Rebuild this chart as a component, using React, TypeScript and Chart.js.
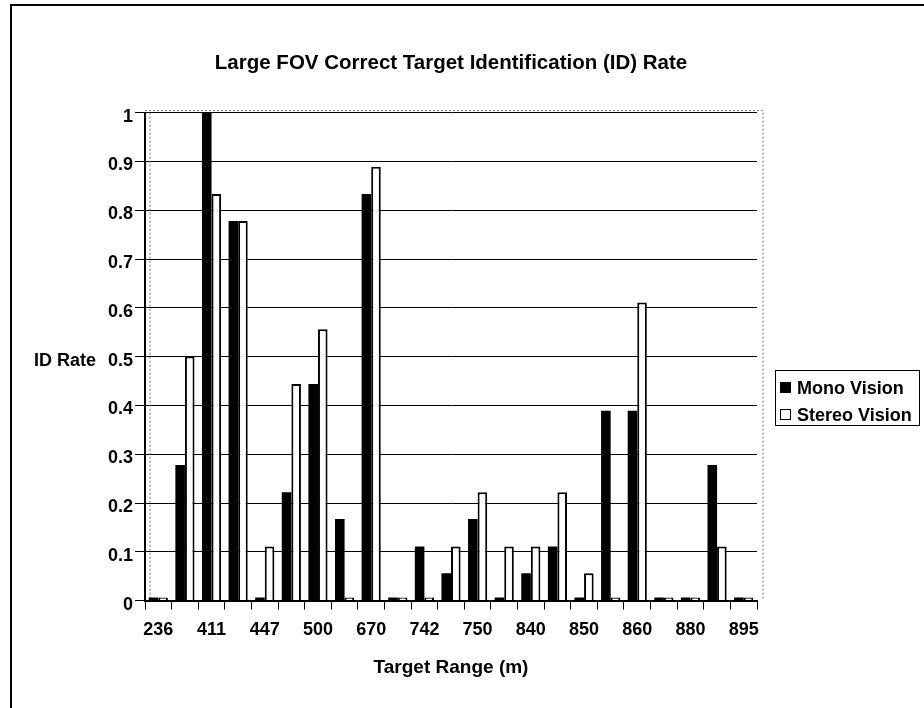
import React, { useEffect, useRef } from "react";
import { Chart, registerables } from "chart.js";

Chart.register(...registerables);

// Category labels (only every other label is printed in the source chart; unprinted ones left blank)
const rangeLabels: string[] = [
  "236", "", "411", "", "447", "", "500", "", "670", "", "742", "",
  "750", "", "840", "", "850", "", "860", "", "880", "", "895",
];

const monoVision: number[] = [
  0, 0.278, 1, 0.778, 0, 0.222, 0.444, 0.167, 0.833, 0, 0.111, 0.056,
  0.167, 0, 0.056, 0.111, 0, 0.389, 0.389, 0, 0, 0.278, 0,
];

const stereoVision: number[] = [
  0, 0.5, 0.833, 0.778, 0.111, 0.444, 0.556, 0, 0.889, 0, 0, 0.111,
  0.222, 0.111, 0.111, 0.222, 0.056, 0, 0.611, 0, 0, 0.111, 0,
];

const seriesNames: string[] = ["Mono Vision", "Stereo Vision"];
const yTickValues: number[] = [0, 0.1, 0.2, 0.3, 0.4, 0.5, 0.6, 0.7, 0.8, 0.9, 1];

const chartTitle = "Large FOV Correct Target Identification (ID) Rate";
const xTitle = "Target Range (m)";
const yTitle = "ID Rate";

const FONT = "'Liberation Sans', Arial, Helvetica, sans-serif";

const framePlugin = {
  id: "frame",
  beforeDraw(chart: any) {
    const ctx = chart.ctx;
    ctx.save();
    ctx.fillStyle = "#fff";
    ctx.fillRect(0, 0, chart.width, chart.height);
    ctx.strokeStyle = "#000";
    ctx.lineWidth = 2;
    ctx.beginPath();
    ctx.moveTo(10, 5);
    ctx.lineTo(chart.width, 5);
    ctx.moveTo(11, 5);
    ctx.lineTo(11, chart.height);
    ctx.stroke();
    ctx.restore();
  },
  beforeDatasetsDraw(chart: any) {
    const { ctx, chartArea } = chart;
    ctx.save();
    ctx.strokeStyle = "#777";
    ctx.lineWidth = 1;
    ctx.setLineDash([2, 2]);
    ctx.beginPath();
    ctx.moveTo(chartArea.left, chartArea.top - 2);
    ctx.lineTo(chartArea.right + 6, chartArea.top - 2);
    ctx.lineTo(chartArea.right + 6, chartArea.bottom);
    ctx.moveTo(chartArea.left + 5, chartArea.top);
    ctx.lineTo(chartArea.left + 5, chartArea.bottom);
    ctx.stroke();
    ctx.restore();
  },
  afterDraw(chart: any) {
    const ctx = chart.ctx;
    const yScale = chart.scales.y;
    ctx.save();
    // horizontal y-axis title
    ctx.font = `bold 18px ${FONT}`;
    ctx.fillStyle = "#000";
    ctx.textAlign = "right";
    ctx.textBaseline = "middle";
    ctx.fillText(yTitle, 96, yScale.getPixelForValue(0.5) + 4);

    // legend box
    const x0 = 775;
    const y0 = 370;
    const w = 144;
    const h = 55;
    ctx.strokeStyle = "#000";
    ctx.lineWidth = 1;
    ctx.strokeRect(x0 + 0.5, y0 + 0.5, w, h);
    ctx.textAlign = "left";
    chart.data.datasets.forEach((ds: any, i: number) => {
      const cy = 388 + i * 27;
      ctx.fillStyle = ds.backgroundColor;
      ctx.fillRect(780, cy - 6, 11, 11);
      ctx.strokeStyle = "#000";
      ctx.lineWidth = 1;
      ctx.strokeRect(780.5, cy - 5.5, 10, 10);
      ctx.fillStyle = "#000";
      ctx.fillText(ds.label, 797, cy + 1);
    });
    ctx.restore();
  },
};

export default function App() {
  const canvasRef = useRef<HTMLCanvasElement | null>(null);

  useEffect(() => {
    if (!canvasRef.current) return;
    const chart = new Chart(canvasRef.current, {
      type: "bar",
      data: {
        labels: rangeLabels,
        datasets: [
          {
            label: seriesNames[0],
            data: monoVision,
            backgroundColor: "#000",
            borderColor: "#000",
            borderWidth: 0,
            minBarLength: 3,
          },
          {
            label: seriesNames[1],
            data: stereoVision,
            backgroundColor: "#fff",
            borderColor: "#000",
            borderWidth: 2,
            minBarLength: 3,
          },
        ],
      },
      options: {
        responsive: false,
        animation: false,
        events: [],
        color: "#000",
        layout: { padding: { left: 106, right: 167, top: 0, bottom: 29 } },
        datasets: {
          bar: { categoryPercentage: 0.72, barPercentage: 1.0 },
        },
        plugins: {
          legend: { display: false },
          tooltip: { enabled: false },
          title: {
            display: true,
            fullSize: false,
            text: chartTitle,
            color: "#000",
            font: { family: FONT, size: 20.5, weight: "bold" },
            padding: { top: 51, bottom: 37 },
          },
        },
        scales: {
          x: {
            type: "category",
            offset: true,
            grid: {
              display: true,
              drawOnChartArea: false,
              drawTicks: true,
              tickLength: 9,
              color: "#000",
              lineWidth: 1,
              offset: true,
            },
            border: { display: true, color: "#000", width: 2 },
            ticks: {
              autoSkip: false,
              maxRotation: 0,
              color: "#000",
              padding: 10,
              font: { family: FONT, size: 18, weight: "bold" },
            },
            title: {
              display: true,
              text: xTitle,
              color: "#000",
              font: { family: FONT, size: 19, weight: "bold" },
              padding: { top: 5, bottom: 0 },
            },
          },
          y: {
            min: 0,
            max: 1,
            afterBuildTicks: (scale: any) => {
              scale.ticks = yTickValues.map((v) => ({ value: v }));
            },
            grid: {
              color: "#000",
              lineWidth: 1,
              drawTicks: true,
              tickLength: 10,
            },
            border: { display: true, color: "#000", width: 2 },
            ticks: {
              color: "#000",
              padding: 2,
              labelOffset: 4,
              font: { family: FONT, size: 18, weight: "bold" },
              callback: (v: any) => String(Math.round(Number(v) * 10) / 10),
            },
          },
        },
      },
      plugins: [framePlugin],
    });
    return () => chart.destroy();
  }, []);

  return (
    <div style={{ position: "absolute", left: 0, top: 0, width: 924, height: 708, background: "#fff" }}>
      <canvas ref={canvasRef} width={924} height={708} style={{ display: "block" }} />
    </div>
  );
}
